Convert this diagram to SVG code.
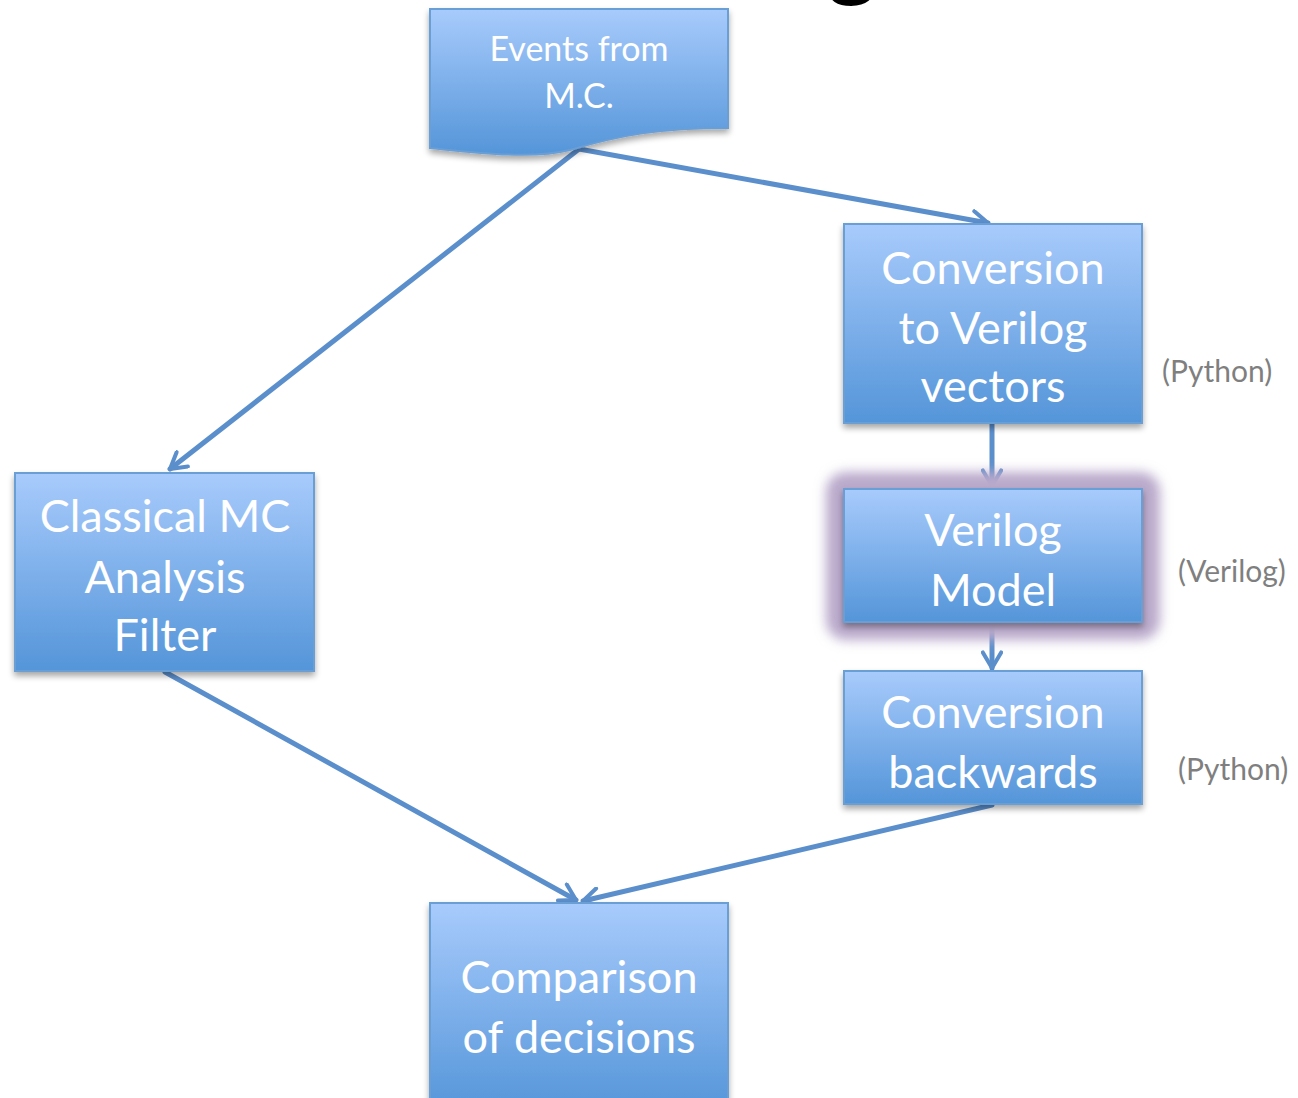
<svg xmlns="http://www.w3.org/2000/svg" width="1298" height="1098" viewBox="0 0 1298 1098">
<defs>
<linearGradient id="g" x1="0" y1="0" x2="0" y2="1">
<stop offset="0" stop-color="#a8cbfc"/>
<stop offset="1" stop-color="#5495d9"/>
</linearGradient>
<filter id="sh" x="-10%" y="-10%" width="120%" height="130%">
<feGaussianBlur in="SourceAlpha" stdDeviation="3"/>
<feOffset dx="0" dy="4" result="b"/>
<feComponentTransfer><feFuncA type="linear" slope="0.35"/></feComponentTransfer>
<feMerge><feMergeNode/><feMergeNode in="SourceGraphic"/></feMerge>
</filter>
<filter id="glow" x="-20%" y="-30%" width="140%" height="160%">
<feGaussianBlur stdDeviation="6"/>
</filter>
<marker id="ah" viewBox="0 0 12 12" refX="10" refY="6" markerWidth="4.4" markerHeight="4.4" orient="auto" markerUnits="strokeWidth">
<path d="M1.5,1 L10,6 L1.5,11" fill="none" stroke="#5b8fcc" stroke-width="2.2" stroke-linecap="round" stroke-linejoin="round"/>
</marker>
</defs>
<style>
.box{fill:url(#g);stroke:#6b9fd6;stroke-width:2;filter:url(#sh)}
.t{font-family:Lato,"Open Sans",sans-serif;fill:#ffffff;text-anchor:middle}
.big{font-size:45px}
.sm{font-size:34px}
.lab{font-family:Lato,"Open Sans",sans-serif;fill:#7f7f7f;font-size:30px}
.c{fill:none;stroke:#5b8fcc;stroke-width:5;stroke-linecap:round;marker-end:url(#ah)}
</style>
<rect width="1298" height="1098" fill="#ffffff"/>
<text x="826" y="-12" font-family="Lato,sans-serif" font-size="100" fill="#000000">g</text>

<g id="connectors">
<line class="c" x1="579" y1="149" x2="170" y2="469"/>
<line class="c" x1="579" y1="149" x2="988" y2="223"/>
<line class="c" x1="992" y1="424" x2="992" y2="486"/>
<line class="c" x1="992" y1="623" x2="992" y2="668"/>
<line class="c" x1="165" y1="672" x2="576" y2="900"/>
<line class="c" x1="992" y1="805" x2="583" y2="901"/>
</g>

<g id="events">
<path class="box" d="M430,9 H728 V128 C660,128 620,135 570,150 C530,160 470,152 430,148 Z"/>
<text class="t sm" x="579" y="61">Events from</text>
<text class="t sm" x="579" y="108">M.C.</text>
</g>

<g id="conv">
<rect class="box" x="844" y="224" width="298" height="199"/>
<text class="t big" x="993" y="284">Conversion</text>
<text class="t big" x="993" y="344">to Verilog</text>
<text class="t big" x="993" y="402">vectors</text>
</g>
<text class="lab" x="1162" y="382">(Python)</text>

<g id="verilog">
<rect x="826" y="472" width="334" height="168" rx="20" fill="#b9a9cb" filter="url(#glow)"/>
<rect class="box" x="844" y="489" width="298" height="133"/>
<text class="t big" x="993" y="546">Verilog</text>
<text class="t big" x="993" y="606">Model</text>
</g>
<text class="lab" x="1178" y="582">(Verilog)</text>

<g id="back">
<rect class="box" x="844" y="671" width="298" height="133"/>
<text class="t big" x="993" y="728">Conversion</text>
<text class="t big" x="993" y="788">backwards</text>
</g>
<text class="lab" x="1178" y="780">(Python)</text>

<g id="classical">
<rect class="box" x="15" y="473" width="299" height="198"/>
<text class="t big" x="165" y="532">Classical MC</text>
<text class="t big" x="165" y="593">Analysis</text>
<text class="t big" x="165" y="651">Filter</text>
</g>

<g id="comparison">
<rect class="box" x="430" y="903" width="298" height="210"/>
<text class="t big" x="579" y="993">Comparison</text>
<text class="t big" x="579" y="1053">of decisions</text>
</g>
</svg>
